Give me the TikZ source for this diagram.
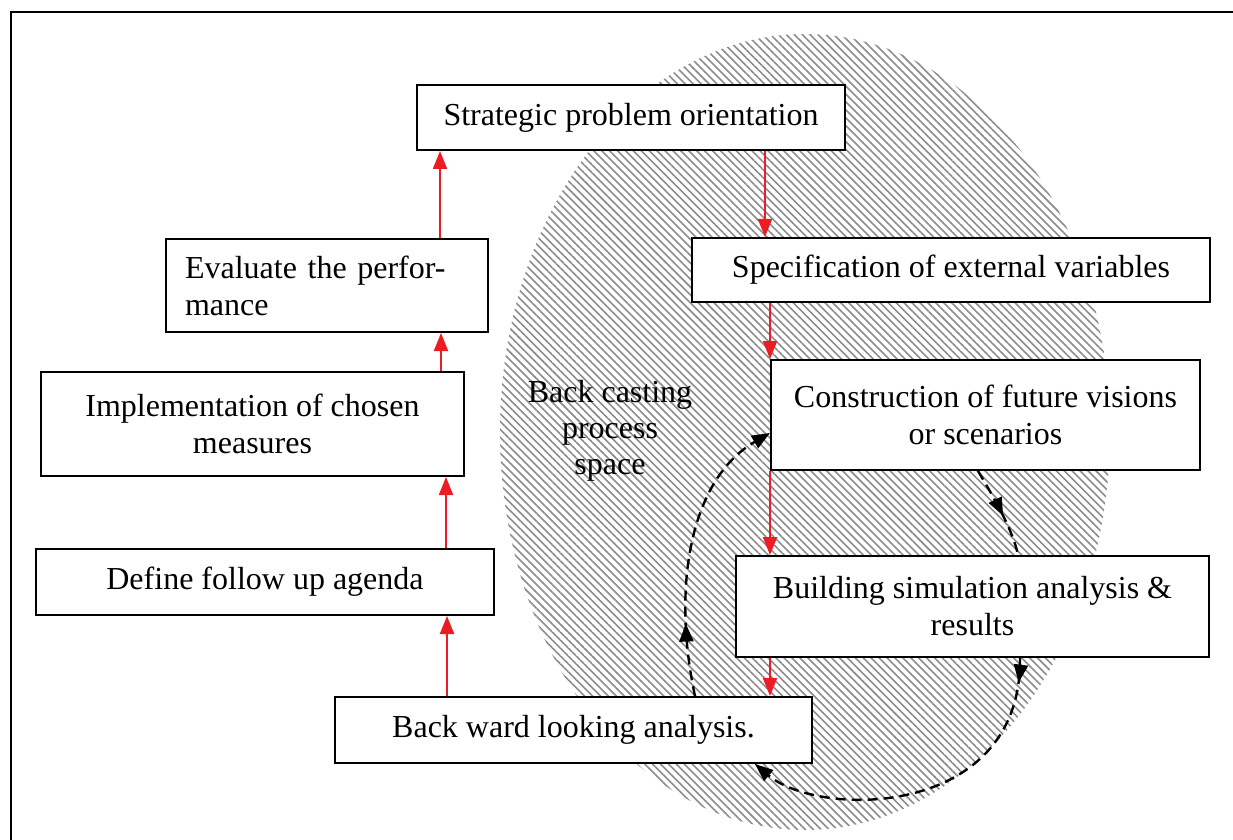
\documentclass[tikz,border=0pt]{standalone}
\usepackage{fontspec}
\setmainfont{Liberation Serif}
\usepackage{tikz}
\usetikzlibrary{arrows.meta,patterns.meta,decorations.markings}
\definecolor{flowred}{RGB}{237,28,36}

\begin{document}
\begin{tikzpicture}[x=0.5pt,y=-0.5pt,>={Triangle[length=9pt,width=7pt]},
  every node/.style={font=\fontsize{16pt}{18.5pt}\selectfont},
  stage/.style={draw,line width=1pt,fill=white,align=center,inner sep=0pt},
  flow/.style={->,draw=flowred,line width=1pt},
  feedback/.style={dash pattern=on 5pt off 3pt,line width=1.2pt},
  midtip/.style={postaction={decorate},decoration={markings,mark=at position #1 with {\arrow{Triangle[length=9pt,width=7pt]}}}}]
\useasboundingbox (0,0) rectangle (1233,840);
\draw[line width=1.3pt] (1233,12) -- (11,12) -- (11,840);
\fill[pattern={Lines[angle=-45,distance=2.8pt,line width=0.8pt]},pattern color=black!45] (805,432) ellipse [x radius=305,y radius=398];
\node[stage,minimum width=214pt,minimum height=32.5pt] (strat) at (631,117.5) {Strategic problem orientation};
\node[stage,minimum width=259pt,minimum height=32pt] (spec) at (951,270) {Specification of external variables};
\node[stage,minimum width=214.5pt,minimum height=55pt] (constr) at (985.5,415) {Construction of future visions\\or scenarios};
\node[stage,minimum width=236.5pt,minimum height=50.5pt] (build) at (972.5,606.5) {Building simulation analysis \&\\results};
\node[stage,minimum width=238.5pt,minimum height=33pt] (backw) at (573.5,730) {Back ward looking analysis.};
\node[stage,minimum width=229pt,minimum height=33pt] (define) at (265,582) {Define follow up agenda};
\node[stage,minimum width=211.5pt,minimum height=52pt] (implem) at (252.5,424) {Implementation of chosen\\measures};
\node[stage,minimum width=161pt,minimum height=46.5pt,align=left,text width=142pt] (evalu) at (327,285.5) {Evaluate the perfor-\\mance};
\node[align=center,font=\fontsize{16pt}{18pt}\selectfont] (space) at (610,431) {Back casting\\process\\space};
\draw[flow] ([xshift=67pt]strat.south) -- ([xshift=67pt]strat.south |- spec.north);
\draw[flow] (constr.north west |- spec.south) -- (constr.north west);
\draw[flow] (constr.south west) -- (constr.south west |- build.north);
\draw[flow] (build.south -| constr.west) -- (backw.north -| constr.west);
\draw[flow] ([xshift=-63.25pt]backw.north) -- ([xshift=-63.25pt]backw.north |- define.south);
\draw[flow] ([xshift=90.5pt]define.north) -- ([xshift=90.5pt]define.north |- implem.south);
\draw[flow] ([xshift=94.25pt]implem.north) -- ([xshift=94.25pt]implem.north |- evalu.south);
\draw[flow] ([xshift=56.5pt]evalu.north) -- ([xshift=56.5pt]evalu.north |- strat.south);
\draw[feedback,->,midtip=0.25] ([xshift=60.75pt]backw.north) .. controls +(-23,-107) and +(-81,47) .. ([yshift=-9pt]constr.west);
\draw[feedback,midtip=0.55] ([xshift=-3.75pt]constr.south) .. controls +(15,25) and +(-5,-25) .. ([xshift=22.75pt]build.north);
\draw[feedback,->,midtip=0.07] ([xshift=23.75pt]build.south) .. controls +(2,160) and +(65,55) .. ([xshift=90.75pt]backw.south);
\end{tikzpicture}
\end{document}
